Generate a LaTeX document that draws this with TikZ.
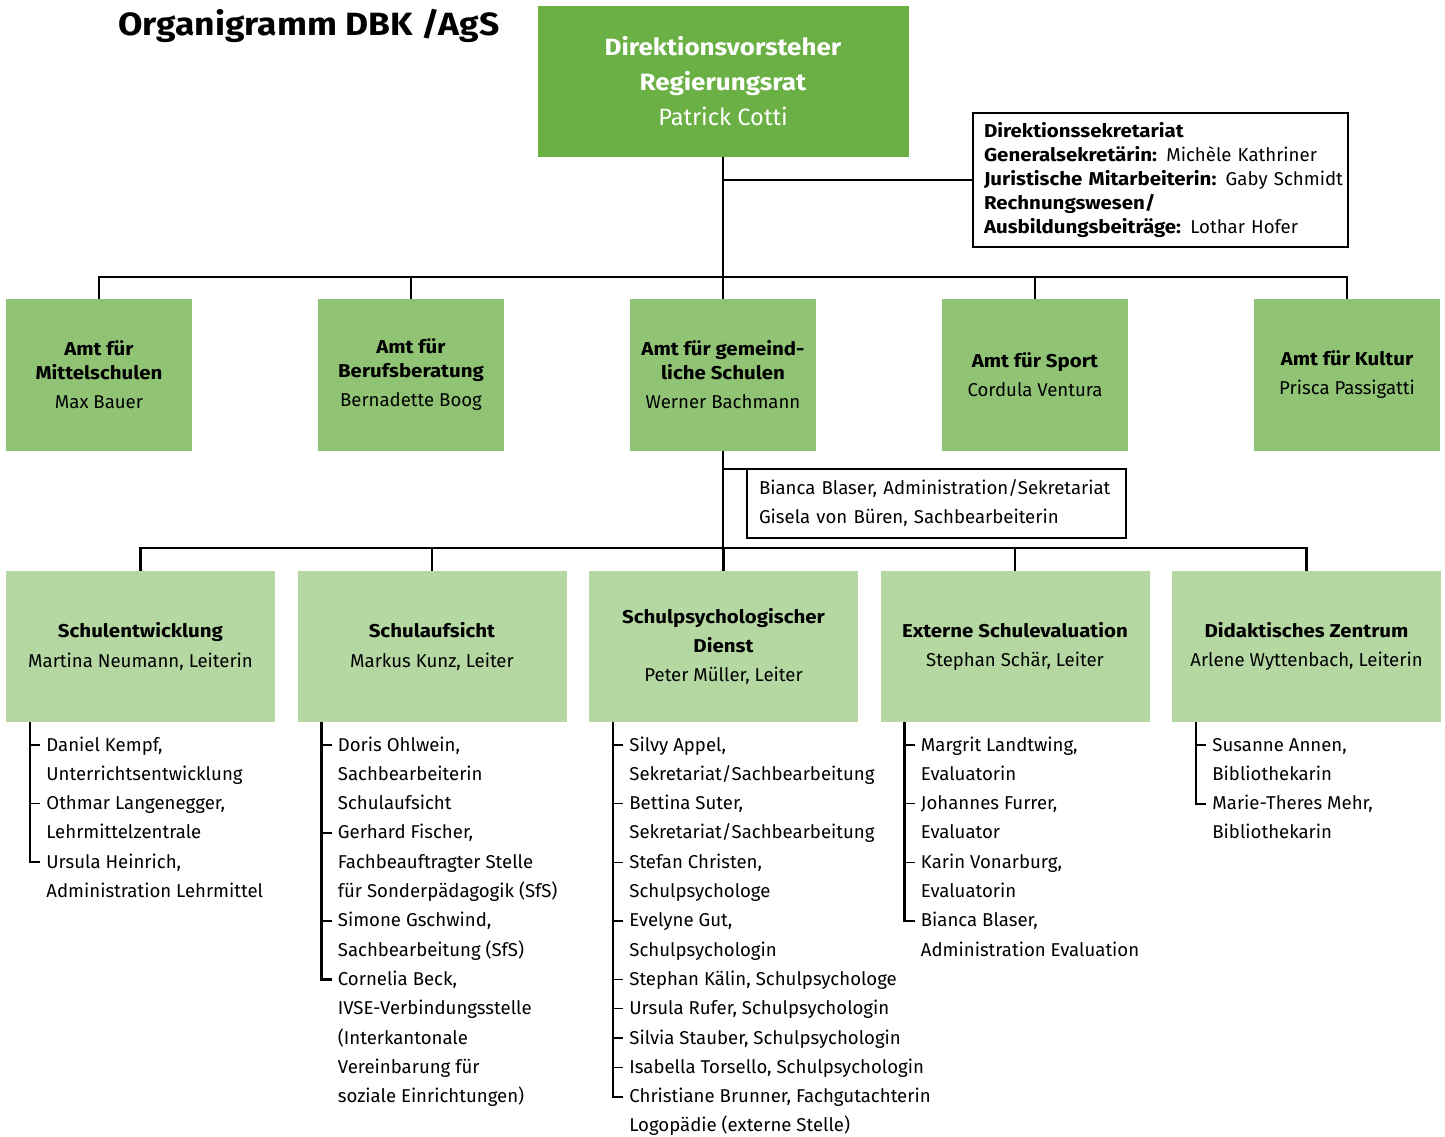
\documentclass[tikz,border=0pt]{standalone}
\usepackage{fontspec}
\setmainfont{Fira Sans}[BoldFeatures={FakeStretch=1.1}]
\usepackage{tikz}
\usetikzlibrary{positioning}
\usetikzlibrary{calc}
\definecolor{dvgreen}{RGB}{106,176,69}
\definecolor{amtgreen}{RGB}{144,196,116}
\definecolor{abtgreen}{RGB}{181,216,162}
\tikzstyle{orga_style}=[
	x=0.5pt, y=-0.5pt,
	head/.style={rectangle,fill=dvgreen,draw=none,text=white,align=center,minimum width=185.5pt,minimum height=75.5pt,inner sep=0pt,outer sep=0pt,font=\fontsize{11.8}{17.5}\selectfont},
	amt/.style={rectangle,fill=amtgreen,draw=none,align=center,minimum width=93pt,minimum height=76pt,inner sep=0pt,outer sep=0pt,font=\fontsize{9.3}{12}\selectfont},
	abteilung/.style={rectangle,fill=abtgreen,draw=none,align=center,minimum width=134.5pt,minimum height=75.5pt,inner sep=0pt,outer sep=0pt,font=\fontsize{9.3}{14.65}\selectfont},
	info/.style={rectangle,draw,line width=1pt,fill=white,align=left,anchor=north west,inner ysep=0pt,outer sep=0pt},
	member/.style={anchor=base west,inner sep=0pt,font=\fontsize{9.3}{14.65}\selectfont},
	thick_edge/.style={line width=1.25pt},
	list_edge/.style={line width=1.1pt},
	thin_edge/.style={line width=0.7pt}
]
\newcommand{\liste}[1]{\begin{tabular}[t]{@{}l@{}}#1\end{tabular}}

\begin{document}
\begin{tikzpicture}[orga_style]
	\useasboundingbox (0,0) rectangle (1445,1136);
	
	%title
	\node[anchor=base west,inner sep=0pt,font=\fontsize{16.1}{20}\selectfont\bfseries] (titel) at (118,35) {Organigramm DBK /AgS};
	
	%Direktion
	\node[head] (dv) at (723,81.5) {\textbf{Direktionsvorsteher}\\\textbf{Regierungsrat}\\Patrick Cotti};
	\node[info,text width=176.5pt,inner xsep=5.5pt,minimum height=67pt,font=\fontsize{9.3}{12}\selectfont] (sek) at (973,113) {\textbf{Direktionssekretariat}\\\mbox{\textbf{Generalsekretärin:} Michèle Kathriner}\\\mbox{\textbf{Juristische Mitarbeiterin:} Gaby Schmidt}\\\textbf{Rechnungswesen/}\\\mbox{\textbf{Ausbildungsbeiträge:} Lothar Hofer}};
	
	%Aemter
	\node[amt] (a1) at (99,375) {\textbf{Amt für}\\\textbf{Mittelschulen}\\[2.5pt]Max Bauer};
	\node[amt] (a2) [right=63pt of a1] {\textbf{Amt für}\\\textbf{Berufsberatung}\\[2.5pt]Bernadette Boog};
	\node[amt] (a3) [right=63pt of a2] {\textbf{Amt für gemeind-}\\\textbf{liche Schulen}\\[2.5pt]Werner Bachmann};
	\node[amt] (a4) [right=63pt of a3] {\textbf{Amt für Sport}\\[2.5pt]Cordula Ventura};
	\node[amt] (a5) [right=63pt of a4] {\textbf{Amt für Kultur}\\[2.5pt]Prisca Passigatti};
	
	%AgS Stab
	\node[info,text width=177.5pt,inner xsep=6pt,minimum height=34.5pt,font=\fontsize{9.3}{14.5}\selectfont] (ags) at (747,469) {\mbox{Bianca Blaser, Administration/Sekretariat}\\Gisela von Büren, Sachbearbeiterin};
	
	%Abteilungen
	\node[abteilung] (s1) at (140.5,646.5) {\textbf{Schulentwicklung}\\Martina Neumann, Leiterin};
	\node[abteilung] (s2) [right=11.25pt of s1] {\textbf{Schulaufsicht}\\Markus Kunz, Leiter};
	\node[abteilung] (s3) [right=11.25pt of s2] {\textbf{Schulpsychologischer}\\\textbf{Dienst}\\Peter Müller, Leiter};
	\node[abteilung] (s4) [right=11.25pt of s3] {\textbf{Externe Schulevaluation}\\Stephan Schär, Leiter};
	\node[abteilung] (s5) [right=11.25pt of s4] {\textbf{Didaktisches Zentrum}\\Arlene Wyttenbach, Leiterin};
	
	%connections
	\coordinate (h1) at (723,277);
	\coordinate (h2) at (723,548);
	\draw[thick_edge] (dv.south) -- (a3.north);
	\draw[thick_edge] (sek.west) -- (sek.west -| dv.south);
	\draw[thick_edge] (a1.north) |- (h1) -| (a5.north);
	\draw[thick_edge] (a2.north) -- (a2.north |- h1);
	\draw[thick_edge] (a4.north) -- (a4.north |- h1);
	\draw[thick_edge] (a3.south) -- (h2);
	\draw[thick_edge] (ags.north west) -- (ags.north west -| a3.south);
	\draw[thick_edge] (s1.north) |- (h2) -| (s5.north);
	\foreach \i in {2,3,4}
		\draw[thick_edge] (s\i.north) -- (s\i.north |- h2);
	
	%Schulentwicklung
	\foreach \k/\txt in {0/{Daniel Kempf,\\Unterrichtsentwicklung},2/{Othmar Langenegger,\\Lehrmittelzentrale},4/{Ursula Heinrich,\\Administration Lehrmittel}}{
		\node[member] (m1-\k) at ($(s1.south west)+(40,{29+29.3*\k})$) {\liste{\txt}};
		\draw[thin_edge] ($(m1-\k.base west)+(-16,-6)$) -- ++(10,0);
	}
	\draw[list_edge] ($(s1.south west)+(24,0)$) |- ($(m1-4.base west)+(-6,-6)$);
	
	%Schulaufsicht
	\foreach \k/\txt in {0/{Doris Ohlwein,\\Sachbearbeiterin\\Schulaufsicht},3/{Gerhard Fischer,\\Fachbeauftragter Stelle\\für Sonderpädagogik (SfS)},6/{Simone Gschwind,\\Sachbearbeitung (SfS)},8/{Cornelia Beck,\\IVSE-Verbindungsstelle\\(Interkantonale\\Vereinbarung für\\soziale Einrichtungen)}}{
		\node[member] (m2-\k) at ($(s2.south west)+(40,{29+29.3*\k})$) {\liste{\txt}};
		\draw[thin_edge] ($(m2-\k.base west)+(-16,-6)$) -- ++(10,0);
	}
	\draw[list_edge] ($(s2.south west)+(24,0)$) |- ($(m2-8.base west)+(-6,-6)$);
	
	%Schulpsychologischer Dienst
	\foreach \k/\txt in {0/{Silvy Appel,\\Sekretariat/Sachbearbeitung},2/{Bettina Suter,\\Sekretariat/Sachbearbeitung},4/{Stefan Christen,\\Schulpsychologe},6/{Evelyne Gut,\\Schulpsychologin},8/{Stephan Kälin, Schulpsychologe},9/{Ursula Rufer, Schulpsychologin},10/{Silvia Stauber, Schulpsychologin},11/{Isabella Torsello, Schulpsychologin},12/{Christiane Brunner, Fachgutachterin\\Logopädie (externe Stelle)}}{
		\node[member] (m3-\k) at ($(s3.south west)+(40,{29+29.3*\k})$) {\liste{\txt}};
		\draw[thin_edge] ($(m3-\k.base west)+(-16,-6)$) -- ++(10,0);
	}
	\draw[list_edge] ($(s3.south west)+(24,0)$) |- ($(m3-12.base west)+(-6,-6)$);
	
	%Externe Schulevaluation
	\foreach \k/\txt in {0/{Margrit Landtwing,\\Evaluatorin},2/{Johannes Furrer,\\Evaluator},4/{Karin Vonarburg,\\Evaluatorin},6/{Bianca Blaser,\\Administration Evaluation}}{
		\node[member] (m4-\k) at ($(s4.south west)+(40,{29+29.3*\k})$) {\liste{\txt}};
		\draw[thin_edge] ($(m4-\k.base west)+(-16,-6)$) -- ++(10,0);
	}
	\draw[list_edge] ($(s4.south west)+(24,0)$) |- ($(m4-6.base west)+(-6,-6)$);
	
	%Didaktisches Zentrum
	\foreach \k/\txt in {0/{Susanne Annen,\\Bibliothekarin},2/{Marie-Theres Mehr,\\Bibliothekarin}}{
		\node[member] (m5-\k) at ($(s5.south west)+(40,{29+29.3*\k})$) {\liste{\txt}};
		\draw[thin_edge] ($(m5-\k.base west)+(-16,-6)$) -- ++(10,0);
	}
	\draw[list_edge] ($(s5.south west)+(24,0)$) |- ($(m5-2.base west)+(-6,-6)$);
	
\end{tikzpicture}
\end{document}
